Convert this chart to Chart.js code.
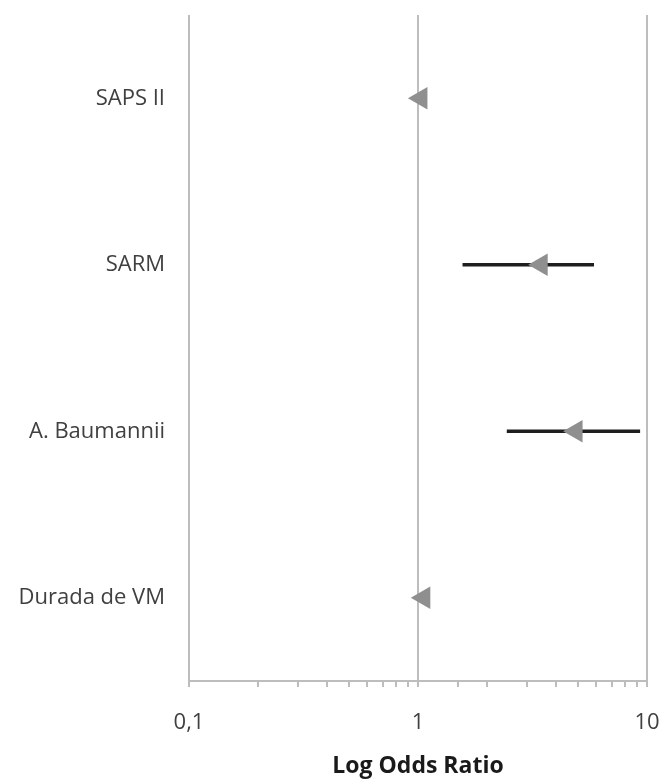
<!DOCTYPE html>
<html>
<head>
<meta charset="utf-8">
<script src="https://cdn.jsdelivr.net/npm/chart.js@4.4.1/dist/chart.umd.min.js"></script>
<style>
  html, body { margin: 0; padding: 0; background: #ffffff; }
  #wrap { width: 666px; height: 780px; }
</style>
</head>
<body>
<div id="wrap"><canvas id="c" width="666" height="780"></canvas></div>
<script>
// Data
const categories = ['SAPS II', 'SARM', 'A. Baumannii', 'Durada de VM'];
const oddsRatio  = [1.03, 3.45, 4.9, 1.06];
const ciLow      = [0.97, 1.57, 2.45, 1.0];
const ciHigh     = [1.08, 5.85, 9.3, 1.1];
const xTickValues = [0.1, 1, 10];
const xTitle = 'Log Odds Ratio';

const GRID = '#bdbdbd';
const TEXT = '#404040';
const FONT = '"Open Sans", "DejaVu Sans", sans-serif';

function isMajor(v) {
  if (v == null || v <= 0) return false;
  const l = Math.log10(v);
  return Math.abs(l - Math.round(l)) < 1e-9;
}

new Chart(document.getElementById('c'), {
  type: 'bar',
  data: {
    labels: categories,
    datasets: [
      {
        type: 'line',
        label: 'OR',
        data: oddsRatio,
        indexAxis: 'y',
        showLine: false,
        pointStyle: 'triangle',
        rotation: -90,
        radius: 13,
        pointBackgroundColor: '#8f8f8f',
        pointBorderColor: '#8f8f8f',
        pointBorderWidth: 0,
        order: 0
      },
      {
        type: 'bar',
        label: 'IC',
        data: ciLow.map((l, i) => [l, ciHigh[i]]),
        indexAxis: 'y',
        barThickness: 3,
        backgroundColor: '#1e1e1e',
        borderWidth: 0,
        borderSkipped: false,
        order: 1
      }
    ]
  },
  options: {
    indexAxis: 'y',
    responsive: false,
    animation: false,
    devicePixelRatio: 1,
    layout: { padding: { top: 15, right: 19, left: 0, bottom: 0 } },
    plugins: {
      legend: { display: false },
      tooltip: { enabled: false }
    },
    scales: {
      x: {
        type: 'logarithmic',
        position: 'bottom',
        min: 0.1,
        max: 10,
        afterFit: (s) => { s.height = 99; s.paddingLeft = 0; s.paddingRight = 0; },
        border: { display: true, color: GRID, width: 2 },
        grid: {
          drawOnChartArea: true,
          color: (ctx) => isMajor(ctx.tick && ctx.tick.value) ? GRID : 'rgba(0,0,0,0)',
          lineWidth: 2,
          tickColor: GRID,
          tickLength: 6,
          tickWidth: 2
        },
        ticks: {
          autoSkip: false,
          maxRotation: 0,
          padding: 23,
          color: TEXT,
          font: { family: FONT, size: 22 },
          callback: (v) => (xTickValues.some(t => Math.abs(t - v) < 1e-9) ? String(v).replace('.', ',') : '')
        },
        title: {
          display: true,
          text: xTitle,
          color: '#1a1a1a',
          font: { family: FONT, size: 23, weight: 'bold', lineHeight: 1.0 },
          padding: { top: 0, bottom: 2 }
        }
      },
      y: {
        type: 'category',
        offset: true,
        afterFit: (s) => { s.width = 189; s.paddingTop = 0; s.paddingBottom = 0; },
        border: { display: false },
        grid: { display: false, drawTicks: false },
        ticks: {
          padding: 24,
          color: TEXT,
          font: { family: FONT, size: 22 }
        }
      }
    }
  }
});
</script>
</body>
</html>
